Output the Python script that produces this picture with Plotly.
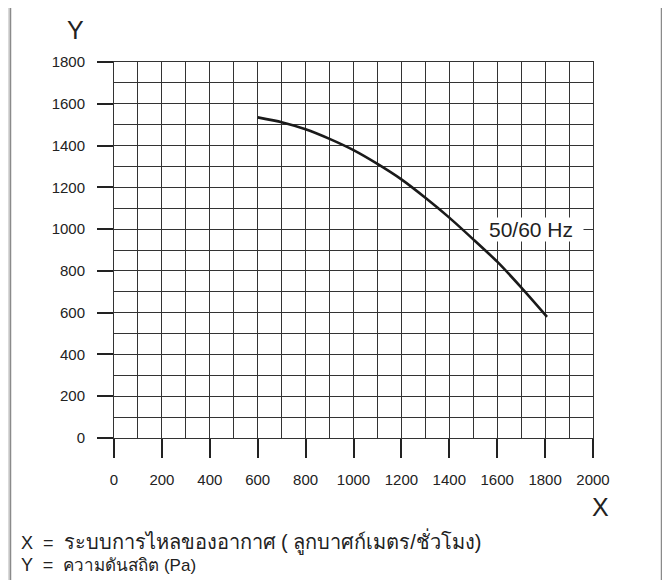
import plotly.graph_objects as go

# Data
flow = [600, 700, 800, 900, 1000, 1100, 1200, 1300, 1400, 1500, 1600, 1700, 1808]
pressure = [1535, 1512, 1478, 1432, 1378, 1312, 1238, 1150, 1055, 951, 844, 721, 580]
x_ticks = [0, 200, 400, 600, 800, 1000, 1200, 1400, 1600, 1800, 2000]
y_ticks = [0, 200, 400, 600, 800, 1000, 1200, 1400, 1600, 1800]
curve_label = "50/60 Hz"
x_title = "X"
y_title = "Y"
x_desc = "ระบบการไหลของอากาศ ( ลูกบาศก์เมตร/ชั่วโมง)"
y_desc = "ความดันสถิต (Pa)"

OFF = 8  # page body margin
W, H = 670 - OFF, 580 - OFF
ML, MR, MT, MB = 106, 77, 54, 142
PW, PH = W - ML - MR, H - MT - MB

def px2x(px):
    return (px - OFF - ML) / PW

def py2y(py):
    return (H - MB - (py - OFF)) / PH

FONT = "Liberation Sans, Arial, Helvetica, sans-serif"
INK = "#222222"
GRID = "#333333"

fig = go.Figure()
fig.add_trace(go.Scatter(
    x=flow, y=pressure, mode="lines",
    line=dict(color="#1a1a1a", width=2.6, shape="spline", smoothing=0.6),
    hoverinfo="skip", showlegend=False,
))

fig.add_annotation(
    x=1742, y=1000, xref="x", yref="y", text=curve_label, showarrow=False,
    font=dict(family=FONT, size=21, color=INK), bgcolor="white",
    width=104, height=23, borderpad=0, align="center",
    xanchor="center", yanchor="middle",
)

# frame of the page
fig.add_shape(type="rect", xref="paper", yref="paper",
              x0=px2x(10.5), x1=px2x(661.5), y0=py2y(620), y1=py2y(0.5),
              fillcolor="white", line=dict(color="#8a8a8a", width=1.5),
              layer="below")

fig.add_annotation(x=px2x(75), y=py2y(30), xref="paper", yref="paper",
                   text=y_title, showarrow=False,
                   font=dict(family=FONT, size=25, color=INK),
                   xanchor="center", yanchor="middle")
fig.add_annotation(x=px2x(600), y=py2y(507), xref="paper", yref="paper",
                   text=x_title, showarrow=False,
                   font=dict(family=FONT, size=25, color=INK),
                   xanchor="center", yanchor="middle")
fig.add_annotation(x=px2x(19), y=py2y(541), xref="paper", yref="paper",
                   text="X  =  <span style='font-size:20px'>" + x_desc + "</span>",
                   showarrow=False,
                   font=dict(family=FONT, size=18, color=INK),
                   xanchor="left", yanchor="middle")
fig.add_annotation(x=px2x(19), y=py2y(565), xref="paper", yref="paper",
                   text="Y  =  <span style='font-size:17px'>" + y_desc + "</span>",
                   showarrow=False,
                   font=dict(family=FONT, size=18, color=INK),
                   xanchor="left", yanchor="middle")

axis_common = dict(
    showgrid=True, gridcolor=GRID, gridwidth=1,
    showline=True, mirror=True, linecolor=GRID, linewidth=1,
    zeroline=False, ticks="outside", tickcolor=INK, tickwidth=1.5,
    tickfont=dict(family=FONT, size=15, color=INK),
    fixedrange=True,
)

fig.update_xaxes(
    range=[0, 2000], tickvals=x_ticks, ticklen=19, ticklabelstandoff=9,
    minor=dict(dtick=100, tick0=0, showgrid=True, gridcolor=GRID, gridwidth=1, ticks=""),
    **axis_common,
)
fig.update_yaxes(
    range=[0, 1800], tickvals=y_ticks, ticklen=16, ticklabelstandoff=9,
    minor=dict(dtick=100, tick0=0, showgrid=True, gridcolor=GRID, gridwidth=1, ticks=""),
    **axis_common,
)

fig.update_layout(
    width=W, height=H,
    margin=dict(l=ML, r=MR, t=MT, b=MB),
    paper_bgcolor="#d9d9d9", plot_bgcolor="rgba(0,0,0,0)",
    showlegend=False,
)

fig.write_html("out.html")
